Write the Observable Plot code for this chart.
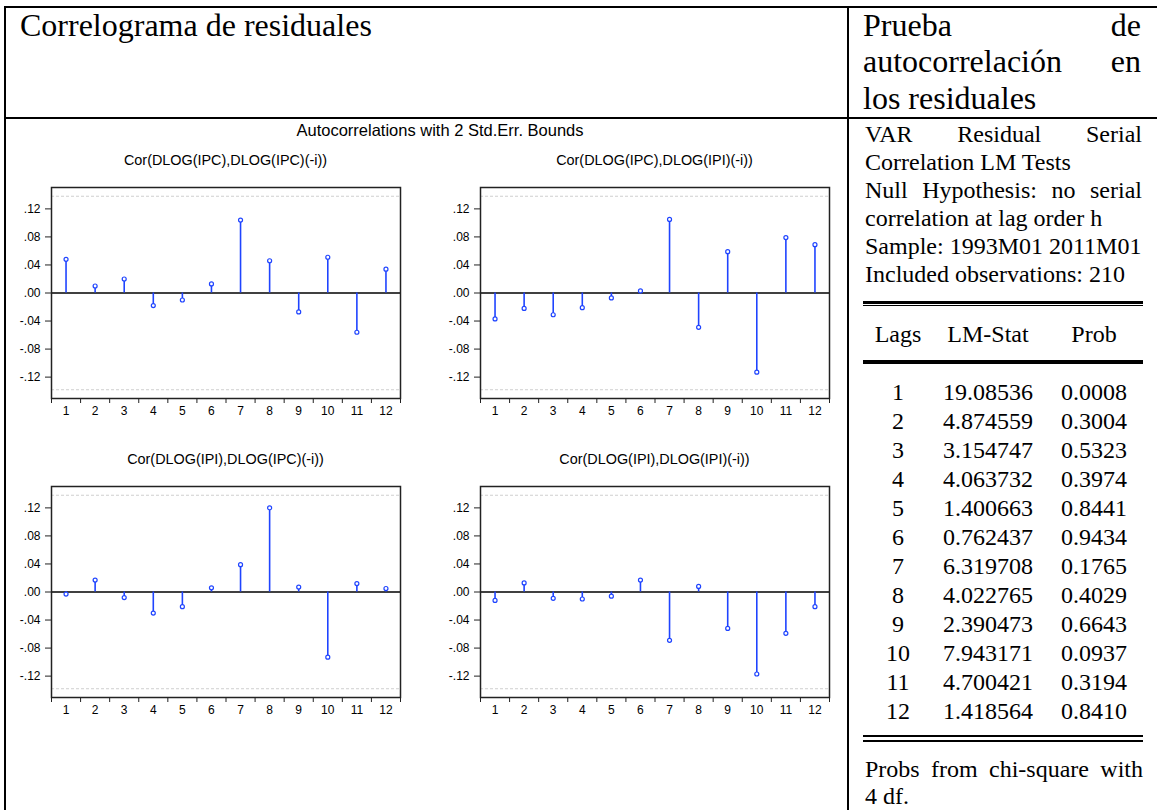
<!DOCTYPE html>
<html><head><meta charset="utf-8">
<script src="https://cdn.jsdelivr.net/npm/d3@7"></script>
<script src="https://cdn.jsdelivr.net/npm/@observablehq/plot@0.6"></script>
<style>
html,body{margin:0;padding:0;background:#fff;}
#page{position:relative;width:1157px;height:810px;overflow:hidden;font-family:"Liberation Serif","Times New Roman",serif;color:#000;background:#fff;}
.abs{position:absolute;white-space:nowrap;}
.rule{position:absolute;background:#000;}
.sans{font-family:"Liberation Sans",Arial,sans-serif;}
.just{display:flex;justify-content:space-between;}
</style></head><body><div id="page"></div>
<script>
// ---------- data ----------
const lags = [1, 2, 3, 4, 5, 6, 7, 8, 9, 10, 11, 12];
const corIpcIpc = [0.048, 0.010, 0.020, -0.018, -0.010, 0.013, 0.104, 0.046, -0.027, 0.051, -0.056, 0.034];
const corIpcIpi = [-0.037, -0.022, -0.031, -0.021, -0.007, 0.003, 0.105, -0.049, 0.059, -0.113, 0.079, 0.069];
const corIpiIpc = [-0.003, 0.017, -0.008, -0.030, -0.021, 0.006, 0.039, 0.120, 0.007, -0.093, 0.012, 0.005];
const corIpiIpi = [-0.012, 0.013, -0.009, -0.010, -0.006, 0.017, -0.069, 0.008, -0.052, -0.117, -0.059, -0.021];
const stdErrBound = 0.138;
const yTicks = [-0.12, -0.08, -0.04, 0, 0.04, 0.08, 0.12];
const panelTitles = ["Cor(DLOG(IPC),DLOG(IPC)(-i))", "Cor(DLOG(IPC),DLOG(IPI)(-i))", "Cor(DLOG(IPI),DLOG(IPC)(-i))", "Cor(DLOG(IPI),DLOG(IPI)(-i))"];
const chartTitle = "Autocorrelations with 2 Std.Err. Bounds";

const lmLags = [1, 2, 3, 4, 5, 6, 7, 8, 9, 10, 11, 12];
const lmStat = [19.08536, 4.874559, 3.154747, 4.063732, 1.400663, 0.762437, 6.319708, 4.022765, 2.390473, 7.943171, 4.700421, 1.418564];
const lmProb = [0.0008, 0.3004, 0.5323, 0.3974, 0.8441, 0.9434, 0.1765, 0.4029, 0.6643, 0.0937, 0.3194, 0.8410];
const lmHeader = ["Lags", "LM-Stat", "Prob"];

const headerLeft = "Correlograma de residuales";
const headerRightLines = [["Prueba", "de"], ["autocorrelación", "en"], ["los residuales"]];
const infoLines = [["VAR", "Residual", "Serial"], ["Correlation LM Tests"], ["Null", "Hypothesis:", "no", "serial"], ["correlation at lag order h"], ["Sample: 1993M01 2011M01"], ["Included observations: 210"]];
const footLines = [["Probs", "from", "chi-square", "with"], ["4 df."]];

// ---------- helpers ----------
const page = document.getElementById("page");
function el(tag, cls, css, text) {
  const e = document.createElement(tag);
  if (cls) e.className = cls;
  Object.assign(e.style, css);
  if (text != null) e.textContent = text;
  page.appendChild(e);
  return e;
}
function rule(x, y, w, h) { el("div", "rule", {left: x + "px", top: y + "px", width: w + "px", height: h + "px"}); }
function lines(arr, x, top, width, fs, lh) {
  arr.forEach((words, i) => {
    const d = el("div", "abs", {left: x + "px", top: (top + i * lh) + "px", width: width + "px", fontSize: fs + "px", lineHeight: lh + "px"});
    if (words.length > 1) {
      d.classList.add("just");
      words.forEach(w => { const s = document.createElement("span"); s.textContent = w; d.appendChild(s); });
    } else d.textContent = words[0];
  });
}

// ---------- table frame ----------
rule(4, 6, 1153, 2);        // top border
rule(4, 6, 2, 804);         // left border
rule(4, 116.7, 1153, 2);    // row divider
rule(846.7, 6, 2, 804);     // column divider

// ---------- headers ----------
el("div", "abs", {left: "20px", top: "7px", fontSize: "32px", lineHeight: "36px"}, headerLeft);
lines(headerRightLines, 863, 7.2, 278, 32, 36.2);
lines(infoLines, 865, 119.6, 277, 24, 28.1);

// ---------- LM table ----------
rule(863, 301, 280, 2.5); rule(863, 304.8, 280, 1.5);
rule(863, 359.5, 280, 2);  rule(863, 362, 280, 1.5);
rule(863, 734.5, 280, 2.5); rule(863, 739.5, 280, 2.5);
const colCenters = [898, 988, 1094];
function row(cells, baseline) {
  cells.forEach((c, j) => {
    el("div", "abs", {left: (colCenters[j] - 60) + "px", width: "120px", textAlign: "center", top: (baseline - 22.1) + "px", fontSize: "24px", lineHeight: "28px"}, c);
  });
}
row(lmHeader, 341.7);
lmLags.forEach((l, i) => row([String(l), String(lmStat[i]), lmProb[i].toFixed(4)], 400 + i * 29.03));
lines(footLines, 865, 755.8, 278, 24, 26.7);

// ---------- correlograms ----------
el("div", "abs sans", {left: "140px", width: "600px", textAlign: "center", top: (136 - 0.8465 * 16.5) + "px", fontSize: "16.5px", lineHeight: "16.5px"}, chartTitle);

const blue = "#1f44ff";
const fmt = d => (d < 0 ? "-" : "") + Math.abs(d).toFixed(2).replace(/^0/, "");
const boundaries = [...lags.map(d => d - 0.5), lags[lags.length - 1] + 0.5];

function panel(values, title, left, top) {
  const data = lags.map((lag, i) => ({lag, r: values[i]}));
  const svg = Plot.plot({
    width: 410, height: 245,
    marginLeft: 51, marginRight: 10, marginTop: 10, marginBottom: 24,
    style: {fontFamily: "'Liberation Sans', Arial, sans-serif", fontSize: "12px", background: "transparent", overflow: "visible", color: "#000"},
    x: {domain: [0.5, 12.5], axis: null},
    y: {domain: [-0.1505, 0.1505], axis: null},
    marks: [
      Plot.ruleY([-stdErrBound, stdErrBound], {stroke: "#cfcfcf", strokeDasharray: "3,2", strokeWidth: 1}),
      Plot.ruleY([0], {stroke: "#000", strokeWidth: 1.5}),
      Plot.ruleX(data, {x: "lag", y1: 0, y2: "r", stroke: blue, strokeWidth: 1.6}),
      Plot.dot(data, {x: "lag", y: "r", r: 2, stroke: blue, fill: "white", strokeWidth: 1.2}),
      Plot.axisY({ticks: yTicks, tickFormat: fmt, tickSize: 6, tickPadding: 5, label: null, stroke: "#222", fontSize: 12}),
      Plot.axisX({ticks: boundaries, tickFormat: () => "", tickSize: 5, label: null, stroke: "#222"}),
      Plot.axisX({ticks: lags, tickFormat: d => String(d), tickSize: 0, tickPadding: 8, label: null, fontSize: 12}),
      Plot.frame({stroke: "#222", strokeWidth: 1.5})
    ]
  });
  const wrap = el("div", "abs", {left: left + "px", top: top + "px"});
  wrap.appendChild(svg);
  el("div", "abs sans", {left: (left + 51 + 174.5 - 200) + "px", width: "400px", textAlign: "center", top: (top - 12 - 0.8465 * 14.4) + "px", fontSize: "14.4px", lineHeight: "14.4px"}, title);
}
panel(corIpcIpc, panelTitles[0], 0, 177);
panel(corIpcIpi, panelTitles[1], 429, 177);
panel(corIpiIpc, panelTitles[2], 0, 476);
panel(corIpiIpi, panelTitles[3], 429, 476);
</script></body></html>
